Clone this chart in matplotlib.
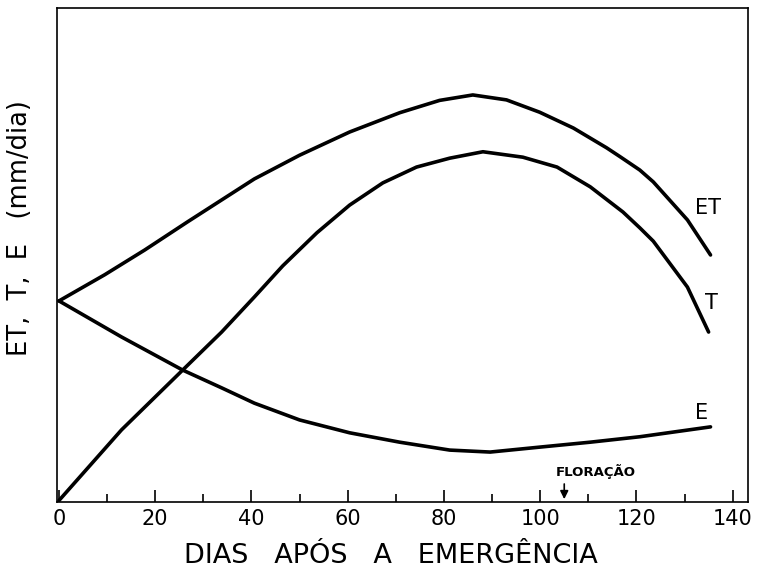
import matplotlib
matplotlib.use('Agg')
import matplotlib.pyplot as plt
from matplotlib.ticker import MultipleLocator

# days after emergence and daily water use (mm/dia)
et_days = [0, 9.5, 17.8, 26.7, 40.6, 50.0, 60.4, 70.8, 79.1, 86.0, 93.0, 99.9, 106.9, 113.8, 116.6, 120.7, 123.5, 130.6, 135.4]
et_vals = [4.07, 4.60, 5.10, 5.67, 6.54, 7.02, 7.49, 7.88, 8.13, 8.24, 8.14, 7.89, 7.57, 7.17, 6.99, 6.72, 6.48, 5.71, 5.00]

t_days = [0, 13.0, 25.7, 33.8, 40.6, 46.5, 53.6, 60.4, 67.3, 74.3, 81.2, 88.1, 96.4, 103.5, 110.4, 117.2, 120.7, 123.5, 130.6, 135.0]
t_vals = [0.03, 1.46, 2.67, 3.44, 4.15, 4.78, 5.45, 6.01, 6.46, 6.78, 6.96, 7.09, 6.98, 6.78, 6.38, 5.87, 5.55, 5.28, 4.35, 3.44]

e_days = [0, 13.0, 25.7, 33.8, 40.6, 50.0, 60.4, 70.8, 81.2, 89.6, 99.9, 110.4, 120.7, 135.4]
e_vals = [4.07, 3.34, 2.67, 2.31, 2.00, 1.66, 1.40, 1.21, 1.05, 1.01, 1.11, 1.21, 1.32, 1.52]

floracao_day = 105

plt.rcParams['font.family'] = ['DejaVu Sans']

fig = plt.figure(figsize=(7.61, 5.73), dpi=100)
ax = fig.add_axes([0.075, 0.124, 0.908, 0.862])

for d, v in [(et_days, et_vals), (t_days, t_vals), (e_days, e_vals)]:
    ax.plot(d, v, color='black', lw=2.6, solid_capstyle='round', solid_joinstyle='round')

ax.text(134.8, 5.95, 'ET', fontsize=15, ha='center', va='center')
ax.text(135.6, 4.02, 'T', fontsize=15, ha='center', va='center')
ax.text(133.6, 1.8, 'E', fontsize=15, ha='center', va='center')

# flowering marker on the x axis
ax.annotate('', xy=(floracao_day, 0.0), xytext=(floracao_day, 0.42),
            arrowprops=dict(arrowstyle='-|>', color='black', lw=1.2, mutation_scale=12))
ax.text(111.6, 0.61, 'FLORAÇÃO', fontsize=9.5, fontweight='bold', ha='center', va='center')

ax.set_xlim(-0.4, 143.2)
ax.set_ylim(0, 10)
ax.xaxis.set_major_locator(MultipleLocator(20))
ax.xaxis.set_minor_locator(MultipleLocator(10))
ax.set_yticks([])
ax.tick_params(axis='x', which='major', direction='in', length=8.5, width=1.2,
               labelsize=15, pad=5, top=False)
ax.tick_params(axis='x', which='minor', direction='in', length=5.5, width=1.2, top=False)
for s in ax.spines.values():
    s.set_linewidth(1.2)

ax.set_xlabel('DIAS   APÓS   A   EMERGÊNCIA', fontsize=19.5)
ax.xaxis.set_label_coords(0.483, -0.083)
ax.set_ylabel('ET,  T,  E   (mm/dia)', fontsize=18.5)
ax.yaxis.set_label_coords(-0.035, 0.554)

fig.savefig('out.png', dpi=100)
